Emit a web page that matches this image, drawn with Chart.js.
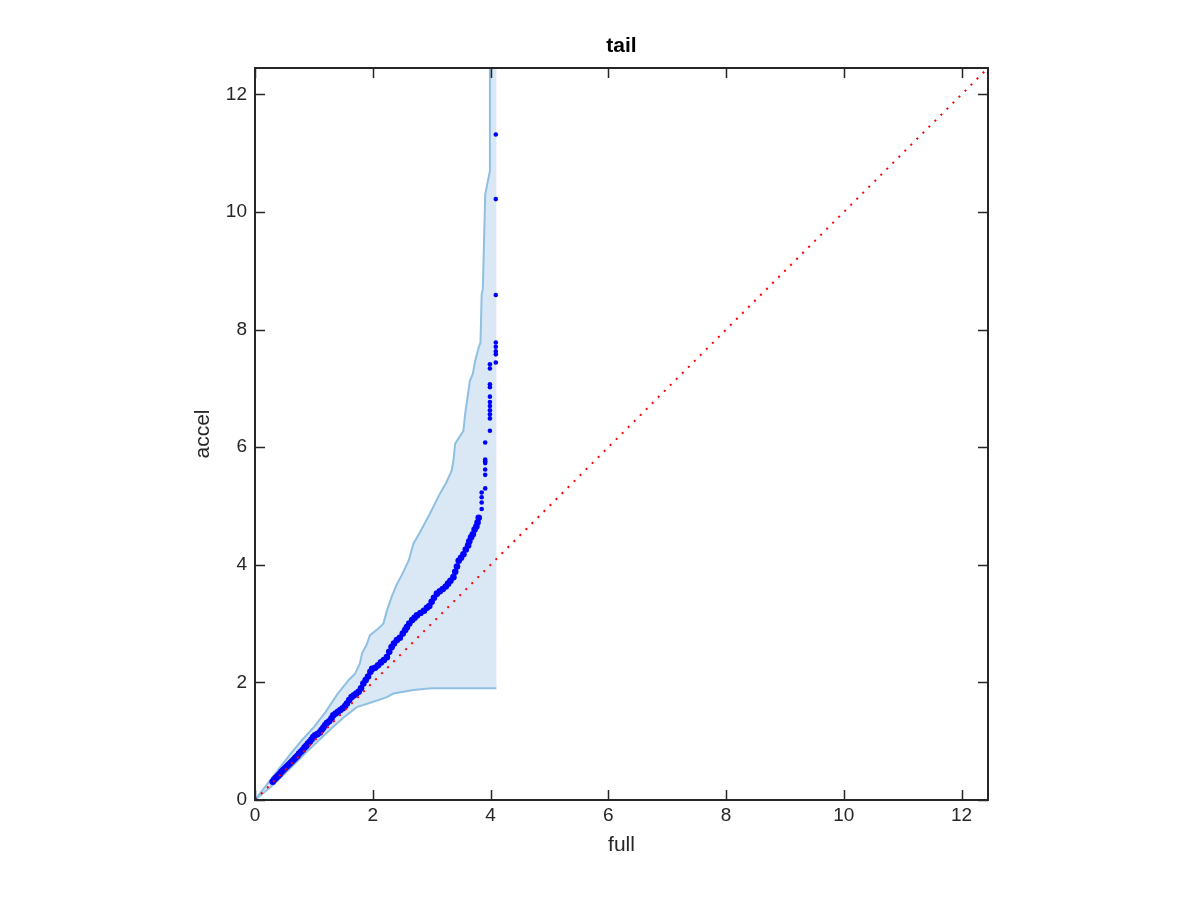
<!DOCTYPE html>
<html>
<head>
<meta charset="utf-8">
<script src="https://cdn.jsdelivr.net/npm/chart.js@4.4.1/dist/chart.umd.min.js"></script>
<style>
html,body{margin:0;padding:0;background:#fff;}
</style>
</head>
<body>
<canvas id="Chart1" width="1200" height="900"></canvas>
<script>
// axis range and tick labels
var axisMax = 12.45;
var tickVals = [0, 2, 4, 6, 8, 10, 12];

// quantile points (full, accel)
var qFull = [0, 0.30,0.33,0.36,0.39,0.42,0.45,0.48,0.51,0.54,0.57,0.60,0.63,0.66,0.69,0.72,0.75,0.78,0.81,0.84,0.87,0.90,0.93,0.96,0.99,
    1.02,1.06,1.10,1.13,1.16,1.19,1.22,1.26,1.30,1.33,1.37,1.41,1.45,1.49,1.53,1.56,1.60,1.64,1.68,1.72,1.76,1.80,1.84,1.88,1.92,1.96,1.99,
    2.04,2.09,2.14,2.19,2.24,2.28,2.32,2.36,2.41,2.46,2.51,2.55,2.58,2.62,2.67,2.71,2.75,2.81,2.87,2.92,2.96,3.00,3.04,3.09,3.14,3.19,3.24,
    3.28,3.32,3.37,3.40,3.43,3.46,3.50,3.54,3.58,3.62,3.64,3.67,3.70,3.73,3.76,3.78,3.80,
    3.85,3.85,3.85,3.85,3.91,3.91,3.91,3.91,3.91,3.91,3.91,3.99,3.99,3.99,3.99,3.99,3.99,3.99,3.99,3.99,3.99,3.99,
    4.09,4.09,4.09,4.09,4.09,4.09,4.09,4.09];
var qAccel = [0, 0.31,0.35,0.38,0.41,0.44,0.48,0.51,0.54,0.57,0.60,0.63,0.66,0.69,0.72,0.75,0.79,0.82,0.85,0.89,0.92,0.96,0.99,1.03,1.07,
    1.10,1.12,1.15,1.19,1.23,1.27,1.31,1.34,1.39,1.44,1.47,1.50,1.53,1.56,1.60,1.64,1.70,1.75,1.78,1.81,1.84,1.90,1.98,2.04,2.10,2.18,2.23,
    2.25,2.29,2.34,2.38,2.43,2.52,2.60,2.66,2.72,2.76,2.83,2.89,2.94,3.00,3.06,3.10,3.14,3.18,3.22,3.27,3.30,3.37,3.44,3.51,3.55,3.59,3.63,
    3.68,3.73,3.79,3.88,3.97,4.07,4.12,4.18,4.26,4.33,4.40,4.47,4.52,4.60,4.65,4.72,4.80,
    4.95,5.06,5.15,5.23,5.30,5.53,5.62,5.73,5.76,5.79,6.08,6.28,6.49,6.56,6.63,6.70,6.77,6.86,7.02,7.07,7.34,7.41,
    7.44,7.58,7.63,7.71,7.78,8.59,10.22,11.32];

// confidence band
var upFull  = [0,0.20,0.40,0.60,0.80,1.00,1.20,1.40,1.60,1.70,1.78,1.82,1.90,1.95,2.10,2.18,2.25,2.32,2.40,2.49,2.61,2.69,2.80,2.97,3.14,3.25,3.34,3.37,3.40,3.54,3.57,3.61,3.65,3.70,3.74,3.80,3.83,3.85,3.87,3.91,3.99,3.99];
var upAccel = [0,0.26,0.52,0.78,1.02,1.24,1.50,1.80,2.05,2.15,2.32,2.50,2.65,2.80,2.92,3.00,3.25,3.45,3.65,3.82,4.07,4.36,4.55,4.87,5.21,5.40,5.60,5.77,6.06,6.28,6.57,6.85,7.13,7.25,7.47,7.70,7.78,8.60,8.70,10.30,10.70,12.45];
var loFull  = [0,0.30,0.50,0.70,0.90,1.10,1.30,1.50,1.73,2.01,2.24,2.35,2.69,3.00,4.10];
var loAccel = [0,0.25,0.44,0.64,0.84,1.03,1.22,1.40,1.58,1.67,1.75,1.81,1.87,1.90,1.90];
var bandRight = 4.10;

function pts(xs, ys){
    var out = [];
    for (var i = 0; i < xs.length; i++) { out.push({x: xs[i], y: ys[i]}); }
    return out;
}

var bandPoly = pts(loFull, loAccel);
bandPoly.push({x: bandRight, y: axisMax});
var upRev = pts(upFull, upAccel).reverse();
bandPoly = bandPoly.concat(upRev);

var axisCol = '#262626';
var fnt = '"Liberation Sans", Arial, Helvetica, sans-serif';

var framePlugin = {
    id: 'frame',
    afterDatasetsDraw: function(chart){
        var ctx = chart.ctx, a = chart.chartArea;
        var xs = chart.scales.x, ys = chart.scales.y;
        ctx.save();
        ctx.strokeStyle = axisCol;
        ctx.lineWidth = 2;
        ctx.beginPath();
        ctx.rect(a.left, a.top, a.right - a.left, a.bottom - a.top);
        ctx.stroke();
        ctx.lineWidth = 1.5;
        ctx.beginPath();
        xs.ticks.forEach(function(t){
            var p = Math.round(xs.getPixelForValue(t.value)) + 0.5;
            ctx.moveTo(p, a.bottom); ctx.lineTo(p, a.bottom - 10);
            ctx.moveTo(p, a.top); ctx.lineTo(p, a.top + 10);
        });
        ys.ticks.forEach(function(t){
            var p = Math.round(ys.getPixelForValue(t.value)) + 0.5;
            ctx.moveTo(a.left, p); ctx.lineTo(a.left + 10, p);
            ctx.moveTo(a.right, p); ctx.lineTo(a.right - 10, p);
        });
        ctx.stroke();
        ctx.restore();
    }
};

function keepTicks(scale){
    scale.ticks = tickVals.map(function(v){ return {value: v}; });
}

window.onload = function(){
    var ctx = document.getElementById('Chart1').getContext('2d');
    new Chart(ctx, {
        type: 'line',
        data: {
            datasets: [
                {label: 'diag', data: [{x: 0, y: 0}, {x: axisMax, y: axisMax}], borderColor: 'rgb(255,0,0)', borderWidth: 2,
                    borderDash: [2, 6.5], pointRadius: 0, fill: false, order: 1},
                {label: 'q', data: pts(qFull, qAccel), showLine: false, pointBackgroundColor: 'rgb(0,0,255)',
                    pointRadius: function(c){ return (c.parsed && c.parsed.y > 0.2 && c.parsed.y < 4.85) ? 3.3 : 2.3; },
                    pointBorderWidth: 0, order: 2},
                {label: 'upper', data: pts(upFull, upAccel), borderColor: 'rgb(143,192,226)', borderWidth: 2, pointRadius: 0, fill: false, order: 3},
                {label: 'lower', data: pts(loFull, loAccel), borderColor: 'rgb(143,192,226)', borderWidth: 2, pointRadius: 0, fill: false, order: 3},
                {label: 'band', data: bandPoly, borderWidth: 0, borderColor: 'rgba(0,0,0,0)', backgroundColor: 'rgb(217,232,244)',
                    pointRadius: 0, fill: 'shape', order: 4}
            ]
        },
        options: {
            responsive: false,
            animation: false,
            devicePixelRatio: 1,
            layout: {padding: {top: 0, right: 212, bottom: 0, left: 0}},
            plugins: {
                legend: {display: false},
                tooltip: {enabled: false}
            },
            scales: {
                x: {
                    type: 'linear', min: 0, max: axisMax,
                    afterBuildTicks: keepTicks,
                    afterFit: function(s){ s.height = 100; },
                    grid: {display: false, drawTicks: false},
                    border: {display: false},
                    ticks: {color: axisCol, font: {family: fnt, size: 19}, padding: 4, maxRotation: 0},
                    title: {display: true, text: 'full', color: axisCol, font: {family: fnt, size: 21}, padding: {top: 0, bottom: 42.4}}
                },
                x2: {
                    type: 'linear', position: 'top', min: 0, max: axisMax,
                    afterFit: function(s){ s.height = 68; },
                    grid: {display: false, drawTicks: false},
                    border: {display: false},
                    ticks: {display: false},
                    title: {display: true, text: 'tail', color: '#000', font: {family: fnt, size: 21, weight: 'bold'}, padding: {top: 33.4, bottom: 0}}
                },
                y: {
                    type: 'linear', min: 0, max: axisMax,
                    afterBuildTicks: keepTicks,
                    afterFit: function(s){ s.width = 255; },
                    grid: {display: false, drawTicks: false},
                    border: {display: false},
                    ticks: {color: axisCol, font: {family: fnt, size: 19}, padding: 8},
                    title: {display: true, text: 'accel', color: axisCol, font: {family: fnt, size: 21}, padding: {top: 190.4, bottom: 0}}
                }
            }
        },
        plugins: [framePlugin]
    });
};
</script>
</body>
</html>
